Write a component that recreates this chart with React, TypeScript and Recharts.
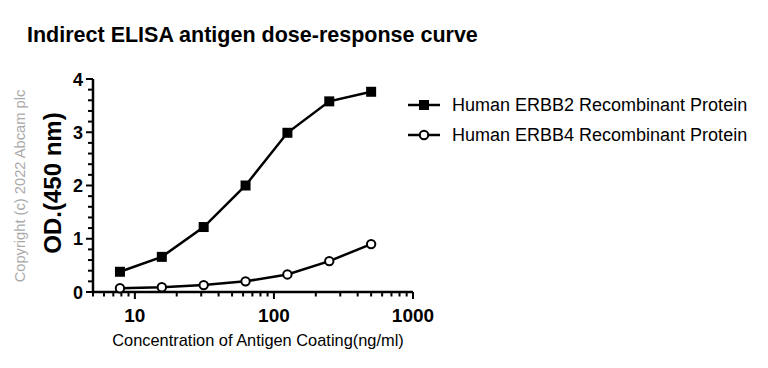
import { LineChart, Line, XAxis, YAxis } from 'recharts'

const concentrations = [7.8125, 15.625, 31.25, 62.5, 125, 250, 500]
const erbb2 = [0.38, 0.66, 1.22, 2.0, 2.99, 3.58, 3.76]
const erbb4 = [0.07, 0.09, 0.13, 0.2, 0.33, 0.58, 0.9]
const xTicks = [5, 6, 7, 8, 9, 10, 20, 30, 40, 50, 60, 70, 80, 90, 100, 200, 300, 400, 500, 600, 700, 800, 900, 1000]
const xLabels = [10, 100, 1000]
const yTicks = [0, 0.2, 0.4, 0.6, 0.8, 1, 1.2, 1.4, 1.6, 1.8, 2, 2.2, 2.4, 2.6, 2.8, 3, 3.2, 3.4, 3.6, 3.8, 4]
const yLabels = [0, 1, 2, 3, 4]

const seriesNames = ['Human ERBB2 Recombinant Protein', 'Human ERBB4 Recombinant Protein']

const data = concentrations.map((c, i) => ({ conc: c, erbb2: erbb2[i], erbb4: erbb4[i] }))

const font = '"Liberation Sans", Arial, sans-serif'

// every tick draws its own line; majors are longer and get a label
function XTick(props: any) {
  const { x, y, payload } = props
  const major = xLabels.includes(payload.value)
  const axisY = y - 2
  return (
    <g>
      <line x1={x} y1={axisY} x2={x} y2={axisY + (major ? 7 : 4.5)} stroke="#000" strokeWidth={2} />
      {major && (
        <text x={x} y={y + 28} textAnchor="middle" fontSize={19} fontWeight="bold" fill="#000" fontFamily={font}>
          {payload.value}
        </text>
      )}
    </g>
  )
}

function YTick(props: any) {
  const { x, y, payload } = props
  const major = yLabels.includes(payload.value)
  const axisX = x + 4
  return (
    <g>
      <line x1={axisX} y1={y} x2={axisX - (major ? 7 : 5)} y2={y} stroke="#000" strokeWidth={2} />
      {major && (
        <text x={axisX - 10} y={y + 6.5} textAnchor="end" fontSize={18} fontWeight="bold" fill="#000" fontFamily={font}>
          {payload.value}
        </text>
      )}
    </g>
  )
}

function SquareDot(props: any) {
  const { cx, cy } = props
  if (cx == null || cy == null) return null
  return <rect x={cx - 5} y={cy - 5} width={10} height={10} fill="#000" />
}

function LegendBox() {
  return (
    <div style={{ position: 'absolute', left: 406, top: 90, fontFamily: font, fontSize: 18, color: '#000', whiteSpace: 'nowrap' }}>
      {seriesNames.map((name, i) => (
        <div key={name} style={{ display: 'flex', alignItems: 'center', height: 30 }}>
          <svg width={36} height={14} style={{ marginRight: 10 }}>
            <line x1={2} y1={7} x2={34} y2={7} stroke="#000" strokeWidth={2.5} />
            {i === 0 ? (
              <rect x={13} y={2} width={10} height={10} fill="#000" />
            ) : (
              <circle cx={18} cy={7} r={4.2} fill="#fff" stroke="#000" strokeWidth={2} />
            )}
          </svg>
          <span>{name}</span>
        </div>
      ))}
    </div>
  )
}

export default function App() {
  return (
    <div style={{ position: 'absolute', left: 0, top: 0, width: 768, height: 368, background: '#fff', fontFamily: font }}>
      <div style={{ position: 'absolute', left: 27, top: 23, fontSize: 21.5, fontWeight: 'bold', color: '#000', whiteSpace: 'nowrap' }}>
        Indirect ELISA antigen dose-response curve
      </div>
      <div
        style={{
          position: 'absolute', left: 20, top: 186, transform: 'translate(-50%, -50%) rotate(-90deg)',
          fontSize: 14.7, color: '#aaa', whiteSpace: 'nowrap',
        }}
      >
        Copyright (c) 2022 Abcam plc
      </div>
      <div
        style={{
          position: 'absolute', left: 53, top: 183, transform: 'translate(-50%, -50%) rotate(-90deg)',
          fontSize: 24, fontWeight: 'bold', color: '#000', whiteSpace: 'nowrap',
        }}
      >
        OD.(450 nm)
      </div>
      <div style={{ position: 'absolute', left: 258, top: 340, transform: 'translate(-50%, -50%)', fontSize: 16.4, color: '#000', whiteSpace: 'nowrap' }}>
        Concentration of Antigen Coating(ng/ml)
      </div>
      <LineChart width={768} height={368} data={data} margin={{ top: 79, right: 355, bottom: 46, left: 53 }} style={{ position: 'absolute', left: 0, top: 0 }}>
        <XAxis
          dataKey="conc"
          type="number"
          scale="log"
          domain={[5, 1000]}
          ticks={xTicks}
          interval={0}
          height={30}
          tick={<XTick />}
          tickLine={false}
          tickSize={0}
          tickMargin={2}
          axisLine={{ stroke: '#000', strokeWidth: 2.5 }}
          allowDataOverflow
        />
        <YAxis
          type="number"
          domain={[0, 4]}
          ticks={yTicks}
          interval={0}
          width={40}
          tick={<YTick />}
          tickLine={false}
          tickSize={0}
          tickMargin={4}
          axisLine={{ stroke: '#000', strokeWidth: 2.5 }}
        />
        <Line dataKey="erbb2" type="linear" stroke="#000" strokeWidth={2.5} dot={<SquareDot />} isAnimationActive={false} />
        <Line
          dataKey="erbb4"
          type="linear"
          stroke="#000"
          strokeWidth={2.5}
          dot={{ r: 4.2, fill: '#fff', stroke: '#000', strokeWidth: 2 }}
          isAnimationActive={false}
        />
      </LineChart>
      <LegendBox />
    </div>
  )
}
